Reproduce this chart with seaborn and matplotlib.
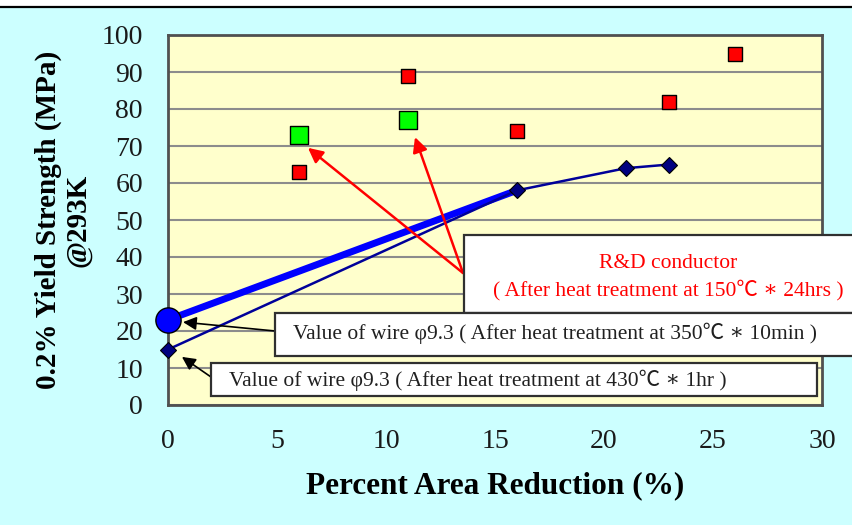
import numpy as np
import pandas as pd
import seaborn as sns
import matplotlib.pyplot as plt
from matplotlib.patches import Rectangle
from matplotlib.lines import Line2D

# R&D conductor samples (after heat treatment at 150 C x 24 hrs)
reduction_rd_red = [6, 11, 16, 23, 26]
strength_rd_red = [63, 89, 74, 82, 95]
reduction_rd_green = [6, 11]
strength_rd_green = [73, 77]

# wire phi 9.3, annealed at 430 C x 1 hr
reduction_430 = [0, 16, 21, 23]
strength_430 = [15, 58, 64, 65]

# wire phi 9.3, annealed at 350 C x 10 min
reduction_350 = [0, 16]
strength_350 = [23, 58]

x_ticks = [0, 5, 10, 15, 20, 25, 30]
y_ticks = list(range(0, 101, 10))

label_rd = ["R&D conductor", "( After heat treatment at 150\u2103 \u2217 24hrs )"]
label_350 = "Value of wire \u03c69.3 ( After heat treatment at 350\u2103 \u2217 10min )"
label_430 = "Value of wire \u03c69.3 ( After heat treatment at 430\u2103 \u2217 1hr )"

sns.set_style("white")
plt.rcParams['font.family'] = ['Liberation Serif', 'DejaVu Serif']
note_fonts = ['Liberation Serif', 'Noto Sans CJK JP', 'DejaVu Serif']

W, H = 853, 525
fig = plt.figure(figsize=(W / 100, H / 100), dpi=100, facecolor='#CCFFFF')


def fx(px):
    return px / W


def fy(py):
    return 1 - py / H


ax = fig.add_axes([fx(168), fy(405), (822 - 168) / W, (405 - 35) / H])
ax.set_facecolor('#FFFFCC')

df_red = pd.DataFrame({'x': reduction_rd_red, 'y': strength_rd_red})
df_green = pd.DataFrame({'x': reduction_rd_green, 'y': strength_rd_green})
df_430 = pd.DataFrame({'x': reduction_430, 'y': strength_430})
df_350 = pd.DataFrame({'x': reduction_350, 'y': strength_350})

sns.lineplot(data=df_350, x='x', y='y', ax=ax, color='#0000FF', lw=5, sort=False,
             zorder=3, clip_on=False)
sns.lineplot(data=df_430, x='x', y='y', ax=ax, color='#000099', lw=1.8, sort=False,
             marker='D', markersize=8, markerfacecolor='#000080', markeredgecolor='black',
             markeredgewidth=0.8, zorder=4, clip_on=False)
sns.scatterplot(data=df_350.iloc[:1], x='x', y='y', ax=ax, marker='o', s=330,
                color='#0000FF', edgecolor='black', linewidth=1, zorder=5, clip_on=False)
sns.scatterplot(data=df_red, x='x', y='y', ax=ax, marker='s', s=110,
                color='#FF0000', edgecolor='black', linewidth=1, zorder=5)
sns.scatterplot(data=df_green, x='x', y='y', ax=ax, marker='s', s=150,
                color='#00FF00', edgecolor='black', linewidth=1, zorder=5)

ax.set_xlim(0, 30)
ax.set_ylim(0, 100)
ax.set_xticks(x_ticks)
ax.set_yticks(y_ticks)
ax.yaxis.grid(True, color='#8c8c8c', lw=1.5)
ax.xaxis.grid(False)
ax.set_axisbelow(True)
ax.tick_params(axis='x', direction='in', length=7, width=1.2, color='#808080',
               labelsize=20, pad=17, labelcolor='#1a1a1a')
ax.tick_params(axis='y', length=0, labelsize=20, pad=18, labelcolor='#1a1a1a')
for s in ax.spines.values():
    s.set_color('#505050')
    s.set_linewidth(2)

ax.set_xlabel("Percent Area Reduction (%)", fontsize=22.5, fontweight='bold', labelpad=13,
              color='black')
ax.set_ylabel("0.2% Yield Strength (MPa)\n@293K", fontsize=21, fontweight='bold',
              labelpad=7, linespacing=1.1, color='black')

# red arrows from the R&D note to the green samples
for tip in [(6.42, 69.5), (11.33, 72.4)]:
    ax.annotate("", xy=tip, xycoords='data', xytext=(fx(463), fy(273)),
                textcoords='figure fraction',
                arrowprops=dict(arrowstyle='-|>', color='#FF0000', lw=1.8,
                                mutation_scale=22, shrinkA=0, shrinkB=0), zorder=6)
# black arrows from the wire notes
ax.annotate("", xy=(0.69, 22.4), xycoords='data', xytext=(fx(275), fy(331)),
            textcoords='figure fraction',
            arrowprops=dict(arrowstyle='-|>', color='black', lw=1.2,
                            mutation_scale=20, shrinkA=0, shrinkB=0), zorder=6)
ax.annotate("", xy=(0.64, 13.0), xycoords='data', xytext=(fx(211), fy(377)),
            textcoords='figure fraction',
            arrowprops=dict(arrowstyle='-|>', color='black', lw=1.2,
                            mutation_scale=20, shrinkA=0, shrinkB=0), zorder=6)


def note_box(x0, y0, x1, y1):
    fig.add_artist(Rectangle((fx(x0), fy(y1)), (x1 - x0) / W, (y1 - y0) / H,
                             transform=fig.transFigure, facecolor='white',
                             edgecolor='#303030', lw=1.6, zorder=3))


note_box(464, 235, 870, 313)
note_box(275, 313, 870, 356)
note_box(211, 363, 817, 396)

text_kw = dict(fontsize=15.5, ha='center', va='center', zorder=4, family=note_fonts)
fig.text(fx(668), fy(264), label_rd[0], color='#FF0000', **text_kw)
fig.text(fx(668), fy(290), label_rd[1], color='#FF0000', **text_kw)
fig.text(fx(555), fy(333), label_350, color='#202020', **text_kw)
fig.text(fx(478), fy(380), label_430, color='#202020', **text_kw)

# white strip and rule along the top edge
fig.add_artist(Rectangle((0, fy(7)), 1, 7 / H, transform=fig.transFigure,
                         facecolor='white', edgecolor='none', zorder=3))
fig.add_artist(Line2D([0, 1], [fy(7), fy(7)], transform=fig.transFigure,
                      color='black', lw=1.6, zorder=4))

fig.savefig("out.png", dpi=100, facecolor=fig.get_facecolor())
